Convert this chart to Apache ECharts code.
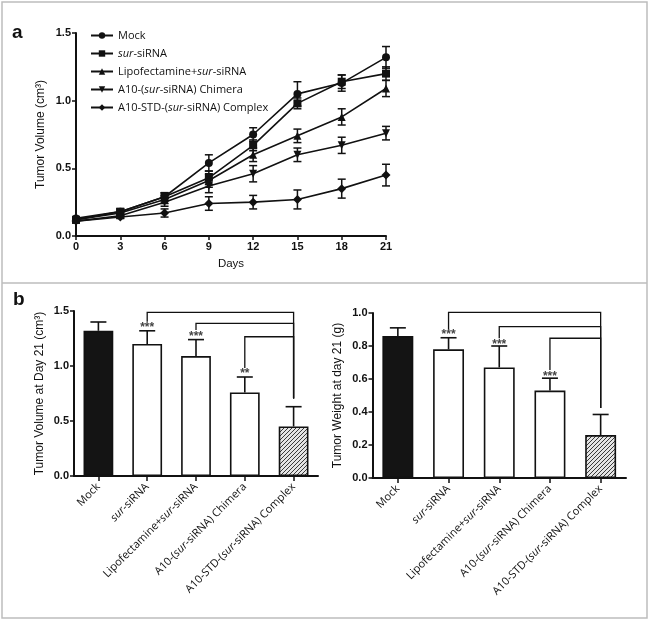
<!DOCTYPE html>
<html>
<head>
<meta charset="utf-8">
<script src="https://cdn.jsdelivr.net/npm/echarts@6/dist/echarts.min.js"></script>
<style>html,body{margin:0;padding:0;background:#fff;}#c{width:650px;height:621px;}</style>
</head>
<body>
<div id="c"></div>
<script>
// ---------- Data ----------
var days = [0, 3, 6, 9, 12, 15, 18, 21];
var seriesNames = ['Mock', 'sur-siRNA', 'Lipofectamine+sur-siRNA', 'A10-(sur-siRNA) Chimera', 'A10-STD-(sur-siRNA) Complex'];
var mockVol = [0.13, 0.18, 0.29, 0.54, 0.75, 1.05, 1.13, 1.32];
var mockErr = [0.01, 0.02, 0.03, 0.06, 0.05, 0.09, 0.06, 0.08];
var surVol = [0.12, 0.18, 0.29, 0.43, 0.67, 0.98, 1.14, 1.20];
var surErr = [0.01, 0.02, 0.03, 0.05, 0.04, 0.04, 0.05, 0.05];
var lipoVol = [0.12, 0.17, 0.27, 0.41, 0.60, 0.74, 0.88, 1.09];
var lipoErr = [0.01, 0.02, 0.03, 0.05, 0.05, 0.05, 0.06, 0.06];
var chimeraVol = [0.11, 0.15, 0.25, 0.37, 0.46, 0.60, 0.67, 0.76];
var chimeraErr = [0.01, 0.02, 0.03, 0.05, 0.06, 0.05, 0.06, 0.05];
var complexVol = [0.11, 0.14, 0.17, 0.24, 0.25, 0.27, 0.35, 0.45];
var complexErr = [0.01, 0.01, 0.03, 0.05, 0.05, 0.07, 0.07, 0.08];

var groups = ['Mock', 'sur-siRNA', 'Lipofectamine+sur-siRNA', 'A10-(sur-siRNA) Chimera', 'A10-STD-(sur-siRNA) Complex'];
var day21Volume = [1.32, 1.20, 1.09, 0.76, 0.45];
var day21VolumeErr = [0.08, 0.12, 0.15, 0.14, 0.18];
var day21Weight = [0.86, 0.78, 0.67, 0.53, 0.26];
var day21WeightErr = [0.05, 0.07, 0.13, 0.075, 0.125];

// significance brackets: [fromGroup, toGroup, level, fromDropEnd, toDropEnd]
var volumeBrackets = [[1, 4, 1.488, 1.402, 0.705], [2, 4, 1.388, 1.327, 0.705], [3, 4, 1.266, 0.981, 0.705]];
var volumeStars = [[1, 1.365, '***'], [2, 1.285, '***'], [3, 0.950, '**']];
var weightBrackets = [[1, 4, 1.004, 0.897, 0.4235], [2, 4, 0.917, 0.847, 0.4235], [3, 4, 0.847, 0.655, 0.4235]];
var weightStars = [[1, 0.880, '***'], [2, 0.823, '***'], [3, 0.628, '***']];

// ---------- Helpers ----------
var AX = 'Liberation Sans, Arial, sans-serif';
var TX = 'Open Sans, sans-serif';
function italicSur(s) { return s.replace('sur', '{i|sur}'); }
var richItalic = { i: { fontStyle: 'italic', fontFamily: TX, fontSize: 11, color: '#111' } };

function hatch() {
  var c = document.createElement('canvas');
  c.width = 4; c.height = 4;
  var g = c.getContext('2d');
  g.fillStyle = '#e4e4e4'; g.fillRect(0, 0, 4, 4);
  g.strokeStyle = '#3a3a3a'; g.lineWidth = 1;
  g.beginPath();
  g.moveTo(0, 4); g.lineTo(4, 0);
  g.moveTo(-1, 1); g.lineTo(1, -1);
  g.moveTo(3, 5); g.lineTo(5, 3);
  g.stroke();
  return c;
}

function lineErrSeries(vals, errs) {
  return {
    type: 'custom', xAxisIndex: 0, yAxisIndex: 0, z: 3, silent: true,
    data: days.map(function (d, i) { return [d, vals[i] - errs[i], vals[i] + errs[i]]; }),
    renderItem: function (params, api) {
      var lo = api.coord([api.value(0), api.value(1)]);
      var hi = api.coord([api.value(0), api.value(2)]);
      var w = 4;
      var st = { stroke: '#111', lineWidth: 1.5 };
      return { type: 'group', children: [
        { type: 'line', shape: { x1: lo[0], y1: lo[1], x2: hi[0], y2: hi[1] }, style: st },
        { type: 'line', shape: { x1: lo[0] - w, y1: lo[1], x2: lo[0] + w, y2: lo[1] }, style: st },
        { type: 'line', shape: { x1: hi[0] - w, y1: hi[1], x2: hi[0] + w, y2: hi[1] }, style: st }
      ] };
    }
  };
}

function barErrSeries(ax, vals, errs) {
  return {
    type: 'custom', xAxisIndex: ax, yAxisIndex: ax, z: 4, silent: true,
    data: vals.map(function (v, i) { return [i, v, v + errs[i]]; }),
    renderItem: function (params, api) {
      var lo = api.coord([api.value(0), api.value(1)]);
      var hi = api.coord([api.value(0), api.value(2)]);
      var w = 8;
      var st = { stroke: '#111', lineWidth: 1.6 };
      return { type: 'group', children: [
        { type: 'line', shape: { x1: lo[0], y1: lo[1], x2: hi[0], y2: hi[1] }, style: st },
        { type: 'line', shape: { x1: hi[0] - w, y1: hi[1], x2: hi[0] + w, y2: hi[1] }, style: st }
      ] };
    }
  };
}

function bracketSeries(ax, br) {
  return {
    type: 'custom', xAxisIndex: ax, yAxisIndex: ax, z: 5, silent: true, clip: false,
    data: br,
    renderItem: function (params, api) {
      var a = api.coord([api.value(0), api.value(3)]);
      var b = api.coord([api.value(0), api.value(2)]);
      var c = api.coord([api.value(1), api.value(2)]);
      var d = api.coord([api.value(1), api.value(4)]);
      return { type: 'polyline', shape: { points: [a, b, c, d] }, style: { stroke: '#111', lineWidth: 1.3, fill: null } };
    }
  };
}

function starSeries(ax, stars) {
  return {
    type: 'custom', xAxisIndex: ax, yAxisIndex: ax, z: 5, silent: true, clip: false,
    data: stars,
    renderItem: function (params, api) {
      var p = api.coord([api.value(0), api.value(1)]);
      return { type: 'text', style: { text: stars[params.dataIndex][2], x: p[0], y: p[1] + 2, align: 'center', verticalAlign: 'middle', font: 'bold 12px ' + AX, fill: '#444' } };
    }
  };
}

var markers = ['circle', 'rect', 'triangle', 'triangle', 'diamond'];
var rotations = [0, 0, 0, 180, 0];
var sizes = [8, 8, 8, 8, 9];
var lineVals = [mockVol, surVol, lipoVol, chimeraVol, complexVol];
var lineErrs = [mockErr, surErr, lipoErr, chimeraErr, complexErr];

var series = [];
lineVals.forEach(function (vals, k) {
  series.push({
    name: seriesNames[k], type: 'line', xAxisIndex: 0, yAxisIndex: 0, z: 4,
    data: days.map(function (d, i) { return [d, vals[i]]; }),
    symbol: markers[k], symbolRotate: rotations[k], symbolSize: sizes[k],
    lineStyle: { color: '#111', width: 1.6 }, itemStyle: { color: '#111' },
    emphasis: { disabled: true }, animation: false
  });
});
lineVals.forEach(function (vals, k) { series.push(lineErrSeries(vals, lineErrs[k])); });

var hatchPattern = { image: hatch(), repeat: 'repeat' };
function barData(vals) {
  return vals.map(function (v, i) {
    var st;
    if (i === 0) st = { color: '#141414', borderColor: '#111', borderWidth: 1.6 };
    else if (i === 4) st = { color: hatchPattern, borderColor: '#111', borderWidth: 1.6 };
    else st = { color: '#fff', borderColor: '#111', borderWidth: 1.6 };
    return { value: v, itemStyle: st };
  });
}
series.push({ type: 'bar', xAxisIndex: 1, yAxisIndex: 1, barWidth: '61%', data: barData(day21Volume), animation: false, z: 2 });
series.push({ type: 'bar', xAxisIndex: 2, yAxisIndex: 2, barWidth: '61%', data: barData(day21Weight), animation: false, z: 2 });
series.push(barErrSeries(1, day21Volume, day21VolumeErr));
series.push(barErrSeries(2, day21Weight, day21WeightErr));
series.push(bracketSeries(1, volumeBrackets));
series.push(bracketSeries(2, weightBrackets));
series.push(starSeries(1, volumeStars));
series.push(starSeries(2, weightStars));

var axLine = { show: true, lineStyle: { color: '#111', width: 2 } };
var axTick = { show: true, length: 4, lineStyle: { color: '#111', width: 1.5 } };
var numLabel = { color: '#111', fontFamily: AX, fontWeight: 'bold', fontSize: 11, margin: 5 };

function catX(idx) {
  return {
    type: 'category', gridIndex: idx, data: groups,
    axisLine: axLine, axisTick: { show: true, length: 5, alignWithLabel: true, lineStyle: { color: '#111', width: 1.5 } },
    axisLabel: { rotate: 45, interval: 0, margin: 9, color: '#111', fontFamily: TX, fontSize: 11, formatter: italicSur, rich: richItalic },
    splitLine: { show: false }
  };
}

var option = {
  animation: false,
  backgroundColor: '#fff',
  legend: {
    data: seriesNames, orient: 'vertical', left: 90, top: 29,
    itemWidth: 22, itemHeight: 8, itemGap: 5, padding: 0,
    textStyle: { fontFamily: TX, fontSize: 11, color: '#111', lineHeight: 13, rich: richItalic },
    formatter: italicSur, selectedMode: false
  },
  grid: [
    { left: 76, top: 33, width: 310, height: 203 },
    { left: 74, top: 311, width: 244, height: 165 },
    { left: 372.5, top: 313, width: 253.5, height: 165 }
  ],
  xAxis: [
    { type: 'value', gridIndex: 0, min: 0, max: 21, interval: 3, name: 'Days', nameLocation: 'middle', nameGap: 22,
      nameTextStyle: { fontFamily: AX, fontSize: 11.5, color: '#111' },
      axisLine: axLine, axisTick: axTick, axisLabel: numLabel, splitLine: { show: false } },
    catX(1), catX(2)
  ],
  yAxis: [
    { type: 'value', gridIndex: 0, min: 0, max: 1.5, interval: 0.5, name: 'Tumor Volume (cm³)', nameLocation: 'middle', nameGap: 29,
      nameTextStyle: { fontFamily: AX, fontSize: 12, color: '#111' },
      axisLine: axLine, axisTick: axTick, axisLabel: Object.assign({}, numLabel, { formatter: function (v) { return v.toFixed(1); } }), splitLine: { show: false } },
    { type: 'value', gridIndex: 1, min: 0, max: 1.5, interval: 0.5, name: 'Tumor Volume at Day 21 (cm³)', nameLocation: 'middle', nameGap: 28,
      nameTextStyle: { fontFamily: AX, fontSize: 12, color: '#111' },
      axisLine: axLine, axisTick: axTick, axisLabel: Object.assign({}, numLabel, { formatter: function (v) { return v.toFixed(1); } }), splitLine: { show: false } },
    { type: 'value', gridIndex: 2, min: 0, max: 1.0, interval: 0.2, name: 'Tumor Weight at day 21 (g)', nameLocation: 'middle', nameGap: 29,
      nameTextStyle: { fontFamily: AX, fontSize: 12, color: '#111' },
      axisLine: axLine, axisTick: axTick, axisLabel: Object.assign({}, numLabel, { formatter: function (v) { return v.toFixed(1); } }), splitLine: { show: false } }
  ],
  graphic: [
    { type: 'rect', shape: { x: 2, y: 2, width: 645, height: 616 }, style: { fill: null, stroke: '#bdbdbd', lineWidth: 1.5 }, silent: true, z: 0 },
    { type: 'line', shape: { x1: 2, y1: 283, x2: 647, y2: 283 }, style: { stroke: '#bdbdbd', lineWidth: 1.5 }, silent: true, z: 0 },
    { type: 'text', left: 12, top: 23, style: { text: 'a', font: 'bold 19px ' + AX, fill: '#111' } },
    { type: 'text', left: 13, top: 290, style: { text: 'b', font: 'bold 19px ' + AX, fill: '#111' } }
  ],
  series: series
};

var chart = echarts.init(document.getElementById('c'), null, { renderer: 'canvas' });
chart.setOption(option);
</script>
</body>
</html>
